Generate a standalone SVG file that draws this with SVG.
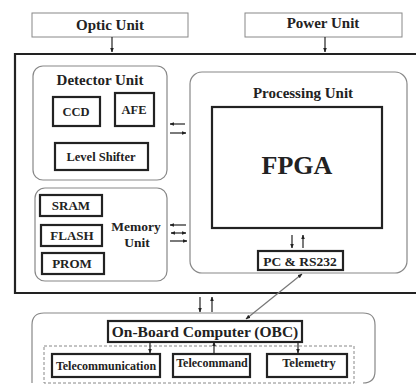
<svg xmlns="http://www.w3.org/2000/svg" width="416" height="385" viewBox="0 0 416 385">
<defs>
<marker id="ah" viewBox="0 0 10 10" refX="9" refY="5" markerWidth="4" markerHeight="4" orient="auto-start-reverse">
<path d="M0,1 L10,5 L0,9 z" fill="#222"/>
</marker>
<style>
text{font-family:"Liberation Serif","Times New Roman",serif;font-weight:bold;fill:#222;text-anchor:middle}
.thin{fill:#fff;stroke:#888;stroke-width:1}
.box{fill:#fff;stroke:#222;stroke-width:2.2}
.round{fill:#fff;stroke:#888;stroke-width:1.2}
.ln{stroke:#222;stroke-width:1.2;fill:none}
</style>
</defs>
<rect width="416" height="385" fill="#fff"/>
<g id="optic"><rect class="thin" x="32" y="13" width="156" height="24"/><text x="110" y="30" font-size="15">Optic Unit</text></g>
<g id="power"><rect class="thin" x="245" y="13" width="157" height="24"/><text x="323" y="28" font-size="15">Power Unit</text></g>
<g id="outer"><path d="M420,54 L15,54 L15,293 L420,293" fill="none" stroke="#222" stroke-width="2.2"/></g>
<g id="detector">
<rect class="round" x="33" y="66" width="134" height="114" rx="10"/>
<text x="100" y="85" font-size="15">Detector Unit</text>
<g id="ccd"><rect class="box" x="53" y="97" width="47" height="29"/><text x="76" y="116" font-size="12.5">CCD</text></g>
<g id="afe"><rect class="box" x="115" y="93" width="39" height="33"/><text x="134" y="114" font-size="12.5">AFE</text></g>
<g id="level"><rect class="box" x="55" y="143" width="93" height="27"/><text x="101" y="161" font-size="12.5">Level Shifter</text></g>
</g>
<g id="memory">
<rect class="round" x="35" y="188" width="132" height="93" rx="10"/>
<text x="136" y="231" font-size="13.5">Memory</text>
<text x="137" y="246.5" font-size="13.5">Unit</text>
<g id="sram"><rect class="box" x="40" y="195" width="62" height="21"/><text x="71" y="210" font-size="13">SRAM</text></g>
<g id="flash"><rect class="box" x="41" y="225" width="61" height="21"/><text x="72" y="240" font-size="13">FLASH</text></g>
<g id="prom"><rect class="box" x="42" y="253" width="62" height="21"/><text x="72" y="268" font-size="13">PROM</text></g>
</g>
<g id="processing">
<rect class="round" x="190" y="72" width="217" height="201" rx="12"/>
<text x="303" y="98" font-size="15">Processing Unit</text>
<g id="fpga"><rect class="box" x="212" y="107" width="170" height="121"/><text x="297" y="174" font-size="26">FPGA</text></g>
<g id="pc"><rect class="box" x="258" y="251" width="85" height="19"/><text x="300" y="266" font-size="13.5">PC &amp; RS232</text></g>
</g>
<g id="obc-unit">
<path d="M32,383 L32,325 Q32,313 44,313 L363,313 Q375,313 375,325 L375,371 Q375,383 363,383" class="round"/>
<rect x="44" y="346" width="310" height="37" fill="none" stroke="#888" stroke-width="1" stroke-dasharray="3,2"/>
<g id="obc"><rect class="box" x="108" y="321" width="194" height="21"/><text x="205" y="337" font-size="15.5">On-Board Computer (OBC)</text></g>
<g id="telecom"><rect class="box" x="52" y="354" width="108" height="23"/><text x="106" y="370" font-size="12">Telecommunication</text></g>
<g id="telecmd"><rect class="box" x="173" y="354" width="77" height="23"/><text x="212" y="367" font-size="12">Telecommand</text></g>
<g id="telemetry"><rect class="box" x="267" y="354" width="80" height="23"/><text x="309" y="367" font-size="12.5">Telemetry</text></g>
</g>
<g id="connectors">
<line class="ln" x1="112" y1="37" x2="112" y2="52" marker-end="url(#ah)"/>
<line class="ln" x1="325" y1="37" x2="325" y2="52" marker-end="url(#ah)"/>
<line class="ln" x1="185" y1="124" x2="170" y2="124" marker-end="url(#ah)"/>
<line class="ln" x1="170" y1="133" x2="186" y2="133" marker-end="url(#ah)"/>
<line class="ln" x1="186" y1="225" x2="170" y2="225" marker-end="url(#ah)"/>
<line class="ln" x1="171" y1="233" x2="186" y2="233" marker-start="url(#ah)" marker-end="url(#ah)"/>
<line class="ln" x1="170" y1="241" x2="187" y2="241" marker-end="url(#ah)"/>
<line class="ln" x1="292" y1="235" x2="292" y2="248" marker-end="url(#ah)"/>
<line class="ln" x1="303" y1="248" x2="303" y2="235" marker-end="url(#ah)"/>
<line class="ln" x1="200" y1="297" x2="200" y2="312" marker-end="url(#ah)"/>
<line class="ln" x1="212" y1="312" x2="212" y2="297" marker-end="url(#ah)"/>
<line x1="302" y1="274" x2="246" y2="319" stroke="#777" stroke-width="1.2" marker-start="url(#ah)" marker-end="url(#ah)"/>
<line class="ln" x1="150" y1="342" x2="150" y2="353" marker-end="url(#ah)"/>
<line class="ln" x1="214" y1="353" x2="214" y2="342" marker-end="url(#ah)"/>
<line class="ln" x1="298" y1="342" x2="298" y2="353" marker-end="url(#ah)"/>
</g>
</svg>
